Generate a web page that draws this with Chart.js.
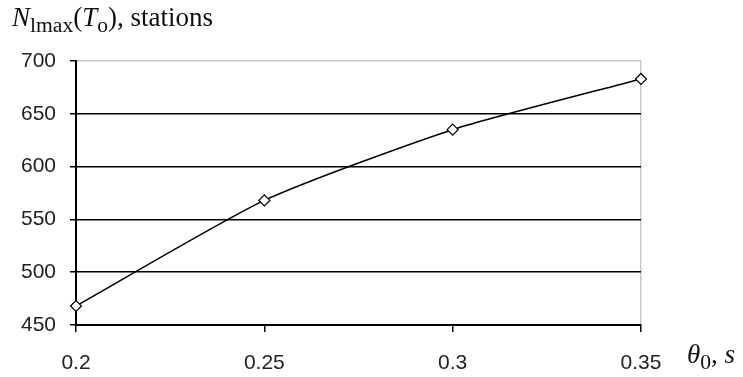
<!DOCTYPE html>
<html>
<head>
<meta charset="utf-8">
<script src="https://cdn.jsdelivr.net/npm/chart.js@4/dist/chart.umd.min.js"></script>
<style>
  html, body { margin: 0; padding: 0; background: #fff; }
  #wrap { position: relative; width: 743px; height: 377px; }
  canvas { position: absolute; left: 0; top: 0; }
  .lbl { position: absolute; font-family: "Liberation Serif", "DejaVu Serif", serif; color: #111; white-space: nowrap; line-height: 1; }
  .lbl i { font-style: italic; }
  .lbl sub { font-size: 80%; vertical-align: -0.3em; }
</style>
</head>
<body>
<div id="wrap">
  <canvas id="c" width="743" height="377"></canvas>
  <div class="lbl" id="ytitle" style="left:12px; top:4px; font-size:27px;"><i>N</i><sub>lmax</sub>(<i>T</i><sub>o</sub>), stations</div>
  <div class="lbl" id="xtitle" style="left:687px; top:341px; font-size:27px;"><i>θ</i><sub>0</sub>, <i>s</i></div>
</div>
<script>
// Period θ0 (s) and the resulting maximum number of stations
const theta0 = [0.2, 0.25, 0.3, 0.35];
const nMax = [468, 568, 635, 683];
const yTicks = [450, 500, 550, 600, 650, 700];
const xTicks = [0.2, 0.25, 0.3, 0.35];

const tickFont = { family: '"Liberation Sans", Arial, sans-serif', size: 21 };

new Chart(document.getElementById('c'), {
  type: 'line',
  data: {
    datasets: [{
      data: theta0.map((x, i) => ({ x: x, y: nMax[i] })),
      borderColor: '#000',
      borderWidth: 1.6,
      tension: 0.2,
      pointStyle: 'rectRot',
      pointRadius: 5.5,
      pointBackgroundColor: '#fff',
      pointBorderColor: '#000',
      pointBorderWidth: 1.2,
      clip: false
    }]
  },
  options: {
    responsive: false,
    animation: false,
    events: [],
    layout: { padding: { left: 0, right: 102, top: 61, bottom: 0 } },
    plugins: { legend: { display: false }, tooltip: { enabled: false } },
    scales: {
      x: {
        type: 'linear',
        min: 0.2, max: 0.35,
        afterBuildTicks: s => { s.ticks = xTicks.map(v => ({ value: v })); },
        ticks: { color: '#222', font: tickFont, padding: 19, callback: v => String(v) },
        grid: {
          color: ctx => (ctx.tick && ctx.tick.value === 0.35) ? '#c8c8c8' : 'rgba(0,0,0,0)',
          tickColor: '#000',
          tickLength: 7,
          lineWidth: 1.5
        },
        border: { color: '#000', width: 2 },
        afterFit: s => { s.height = 52; }
      },
      y: {
        min: 450, max: 700,
        afterBuildTicks: s => { s.ticks = yTicks.map(v => ({ value: v })); },
        ticks: { color: '#222', font: tickFont, padding: 14 },
        grid: {
          color: ctx => (ctx.tick && ctx.tick.value === 700) ? '#c8c8c8' : '#000',
          tickColor: '#000',
          tickLength: 6,
          lineWidth: 1.5
        },
        border: { color: '#000', width: 2 },
        afterFit: s => { s.width = 76; }
      }
    }
  }
});
</script>
</body>
</html>
